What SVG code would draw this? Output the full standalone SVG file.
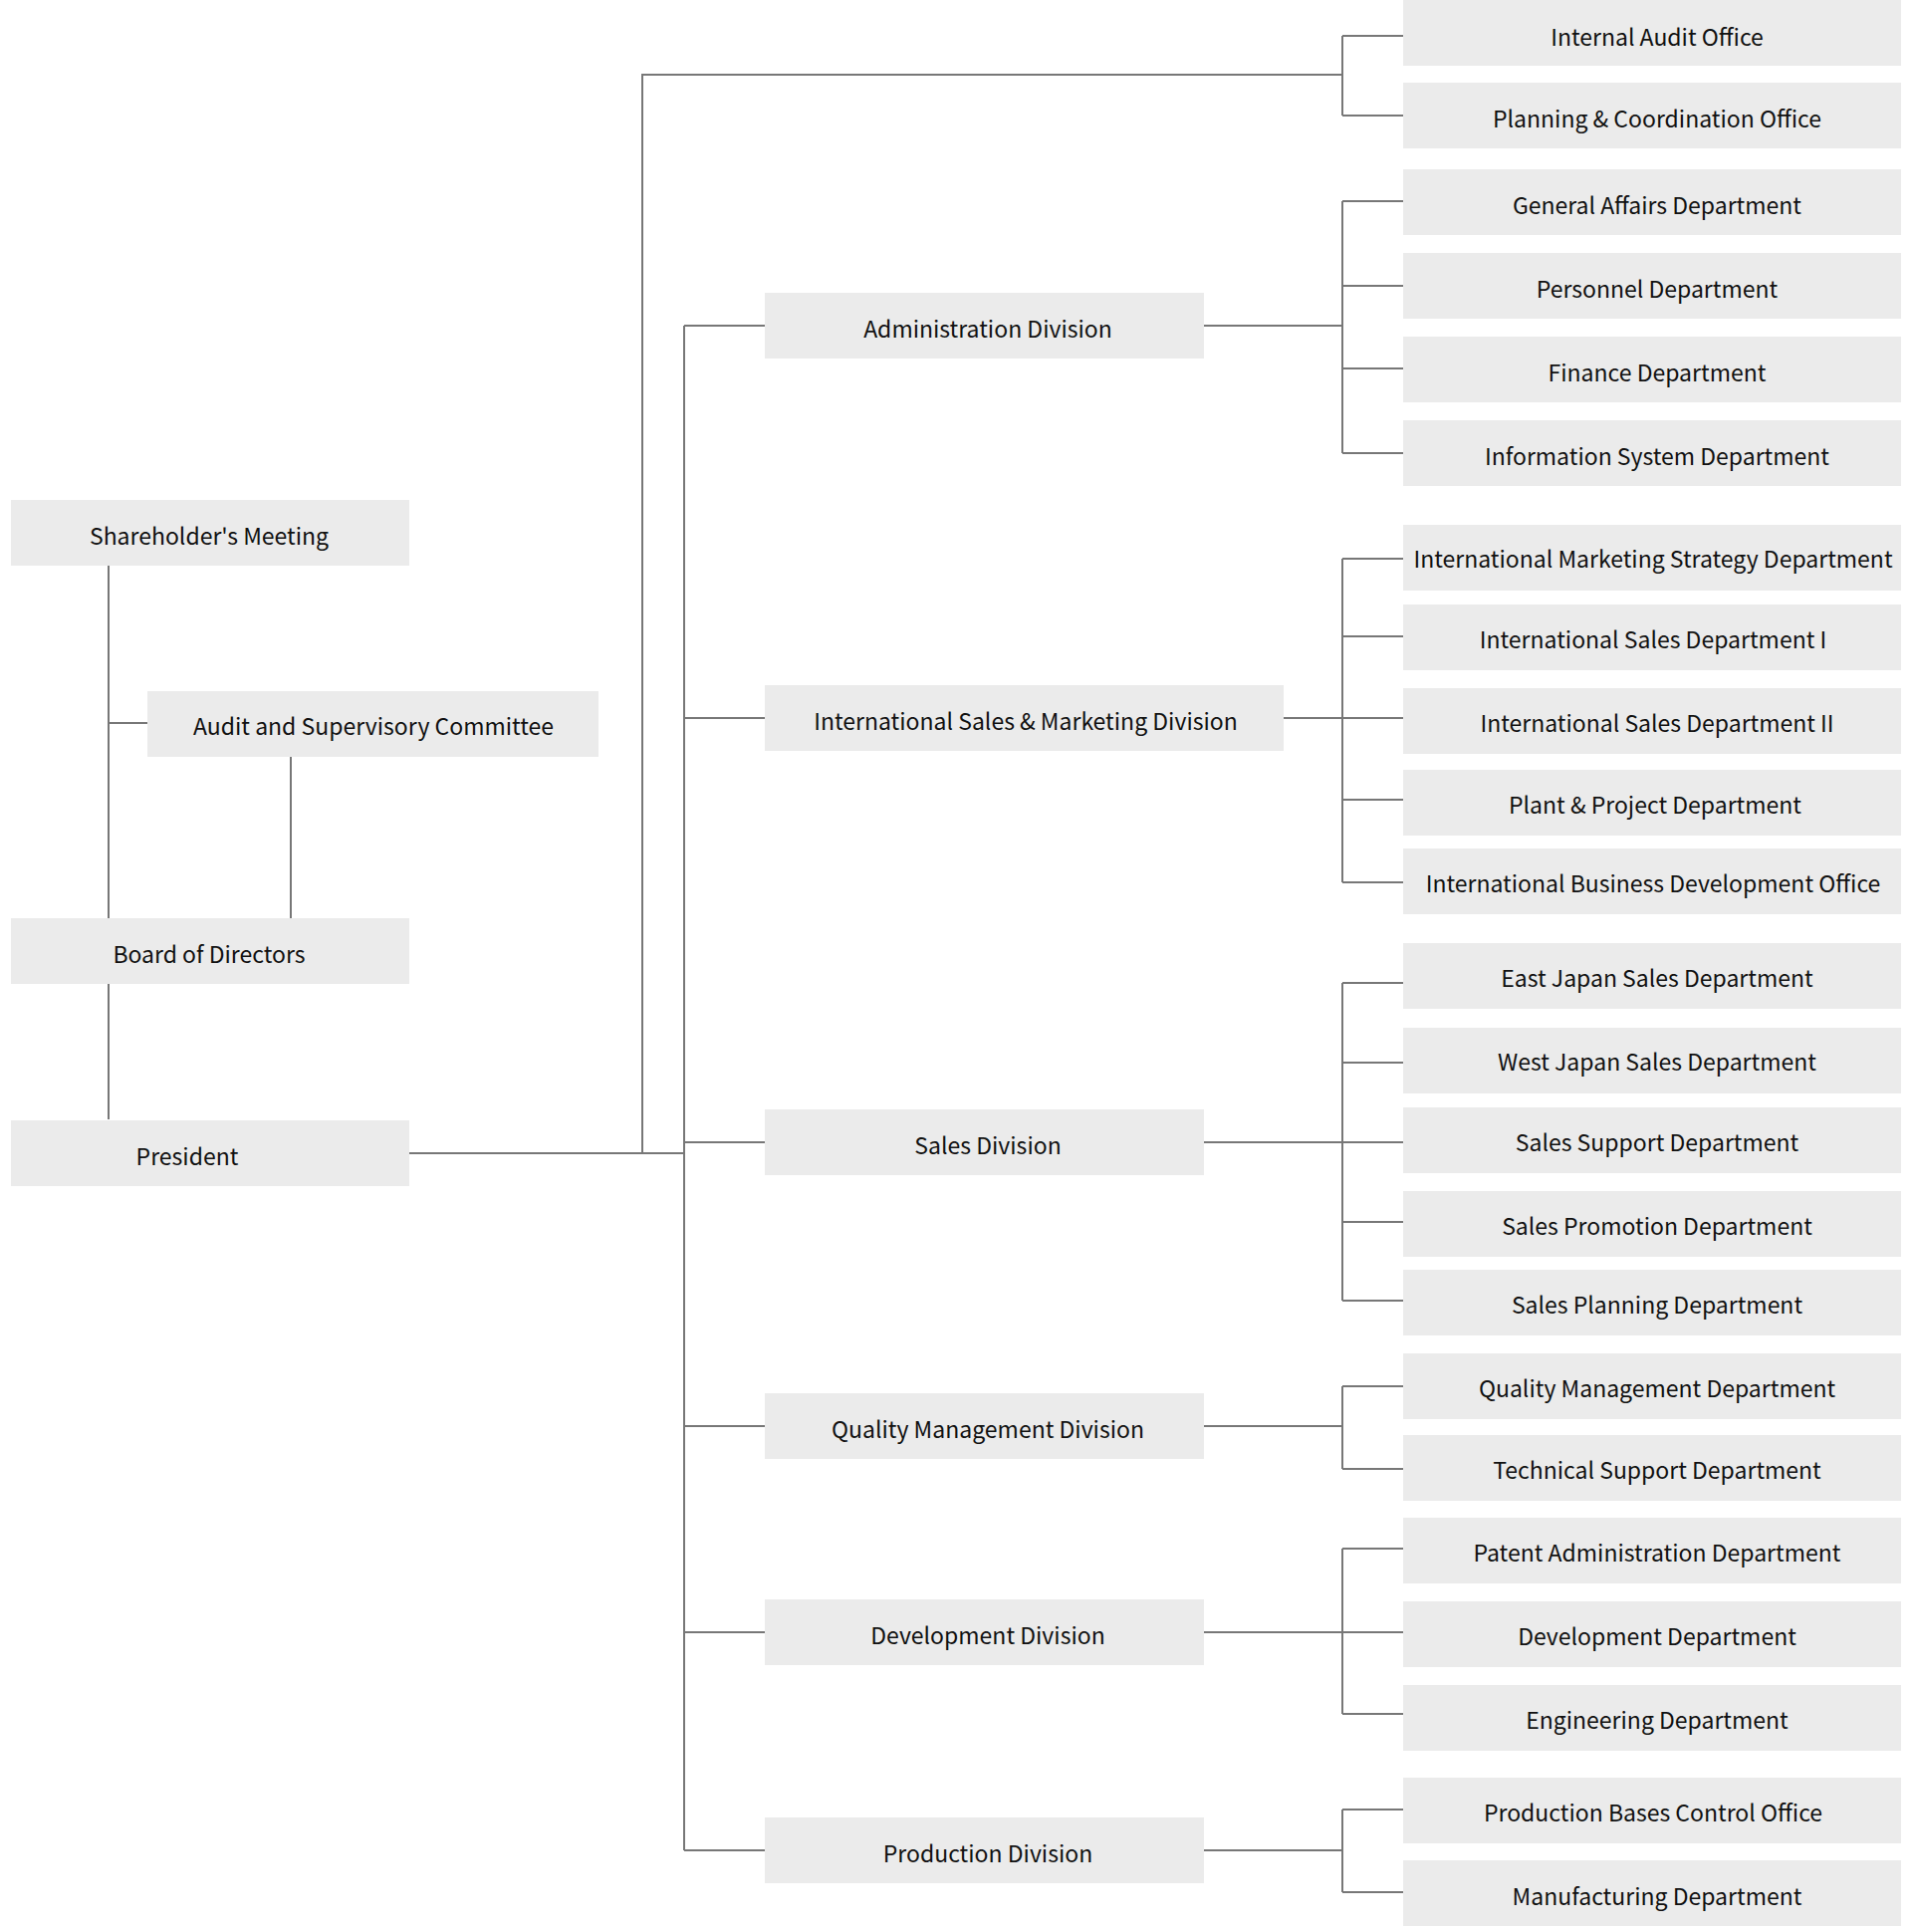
<svg xmlns="http://www.w3.org/2000/svg" width="1920" height="1940" viewBox="0 0 1920 1940">
<style>
rect{fill:#ebebeb}
text{font-family:"Noto Sans CJK JP","Noto Sans",sans-serif;font-size:23px;fill:#111;text-anchor:middle;dominant-baseline:central}
.c path{stroke:#777;stroke-width:2;fill:none}
</style>
<rect width="1920" height="1940" style="fill:#fff"/>
<g class="c" id="connectors">
<path d="M109 568V1124M109 726H148M292 760V922M411 1158H687M645 1158V75H1348M1348 36V116M1348 36H1409M1348 116H1409"/>
<path d="M687 327V1858M687 327H768M687 721H768M687 1147H768M687 1432H768M687 1639H768M687 1858H768"/>
<path d="M1209 327H1348M1348 202V455M1348 202H1409M1348 287H1409M1348 370H1409M1348 455H1409"/>
<path d="M1289 721H1348M1348 561V886M1348 561H1409M1348 639H1409M1348 721H1409M1348 803H1409M1348 886H1409"/>
<path d="M1209 1147H1348M1348 987V1306M1348 987H1409M1348 1067H1409M1348 1147H1409M1348 1227H1409M1348 1306H1409"/>
<path d="M1209 1432H1348M1348 1392V1475M1348 1392H1409M1348 1475H1409"/>
<path d="M1209 1639H1348M1348 1555V1721M1348 1555H1409M1348 1639H1409M1348 1721H1409"/>
<path d="M1209 1858H1348M1348 1817V1900M1348 1817H1409M1348 1900H1409"/>
</g>
<g id="shareholders"><rect x="11" y="502" width="400" height="66"/><text x="210" y="537">Shareholder's Meeting</text></g>
<g id="audit-committee"><rect x="148" y="694" width="453" height="66"/><text x="375" y="728">Audit and Supervisory Committee</text></g>
<g id="board"><rect x="11" y="922" width="400" height="66"/><text x="210" y="957">Board of Directors</text></g>
<g id="president"><rect x="11" y="1125" width="400" height="66"/><text x="188" y="1160">President</text></g>
<g id="div-admin"><rect x="768" y="294" width="441" height="66"/><text x="992" y="329">Administration Division</text></g>
<g id="div-intl"><rect x="768" y="688" width="521" height="66"/><text x="1030" y="723">International Sales &amp; Marketing Division</text></g>
<g id="div-sales"><rect x="768" y="1114" width="441" height="66"/><text x="992" y="1149">Sales Division</text></g>
<g id="div-qm"><rect x="768" y="1399" width="441" height="66"/><text x="992" y="1434">Quality Management Division</text></g>
<g id="div-dev"><rect x="768" y="1606" width="441" height="66"/><text x="992" y="1641">Development Division</text></g>
<g id="div-prod"><rect x="768" y="1825" width="441" height="66"/><text x="992" y="1860">Production Division</text></g>
<g id="d1"><rect x="1409" y="0" width="500" height="66"/><text x="1664" y="36">Internal Audit Office</text></g>
<g id="d2"><rect x="1409" y="83" width="500" height="66"/><text x="1664" y="118">Planning &amp; Coordination Office</text></g>
<g id="d3"><rect x="1409" y="170" width="500" height="66"/><text x="1664" y="205">General Affairs Department</text></g>
<g id="d4"><rect x="1409" y="254" width="500" height="66"/><text x="1664" y="289">Personnel Department</text></g>
<g id="d5"><rect x="1409" y="338" width="500" height="66"/><text x="1664" y="373">Finance Department</text></g>
<g id="d6"><rect x="1409" y="422" width="500" height="66"/><text x="1664" y="457">Information System Department</text></g>
<g id="d7"><rect x="1409" y="527" width="500" height="66"/><text x="1660" y="560">International Marketing Strategy Department</text></g>
<g id="d8"><rect x="1409" y="607" width="500" height="66"/><text x="1660" y="641">International Sales Department I</text></g>
<g id="d9"><rect x="1409" y="691" width="500" height="66"/><text x="1664" y="725">International Sales Department II</text></g>
<g id="d10"><rect x="1409" y="773" width="500" height="66"/><text x="1662" y="807">Plant &amp; Project Department</text></g>
<g id="d11"><rect x="1409" y="852" width="500" height="66"/><text x="1660" y="886">International Business Development Office</text></g>
<g id="d12"><rect x="1409" y="947" width="500" height="66"/><text x="1664" y="981">East Japan Sales Department</text></g>
<g id="d13"><rect x="1409" y="1032" width="500" height="66"/><text x="1664" y="1065">West Japan Sales Department</text></g>
<g id="d14"><rect x="1409" y="1112" width="500" height="66"/><text x="1664" y="1146">Sales Support Department</text></g>
<g id="d15"><rect x="1409" y="1196" width="500" height="66"/><text x="1664" y="1230">Sales Promotion Department</text></g>
<g id="d16"><rect x="1409" y="1275" width="500" height="66"/><text x="1664" y="1309">Sales Planning Department</text></g>
<g id="d17"><rect x="1409" y="1359" width="500" height="66"/><text x="1664" y="1393">Quality Management Department</text></g>
<g id="d18"><rect x="1409" y="1441" width="500" height="66"/><text x="1664" y="1475">Technical Support Department</text></g>
<g id="d19"><rect x="1409" y="1524" width="500" height="66"/><text x="1664" y="1558">Patent Administration Department</text></g>
<g id="d20"><rect x="1409" y="1608" width="500" height="66"/><text x="1664" y="1642">Development Department</text></g>
<g id="d21"><rect x="1409" y="1692" width="500" height="66"/><text x="1664" y="1726">Engineering Department</text></g>
<g id="d22"><rect x="1409" y="1785" width="500" height="66"/><text x="1660" y="1819">Production Bases Control Office</text></g>
<g id="d23"><rect x="1409" y="1868" width="500" height="66"/><text x="1664" y="1903">Manufacturing Department</text></g>
</svg>
